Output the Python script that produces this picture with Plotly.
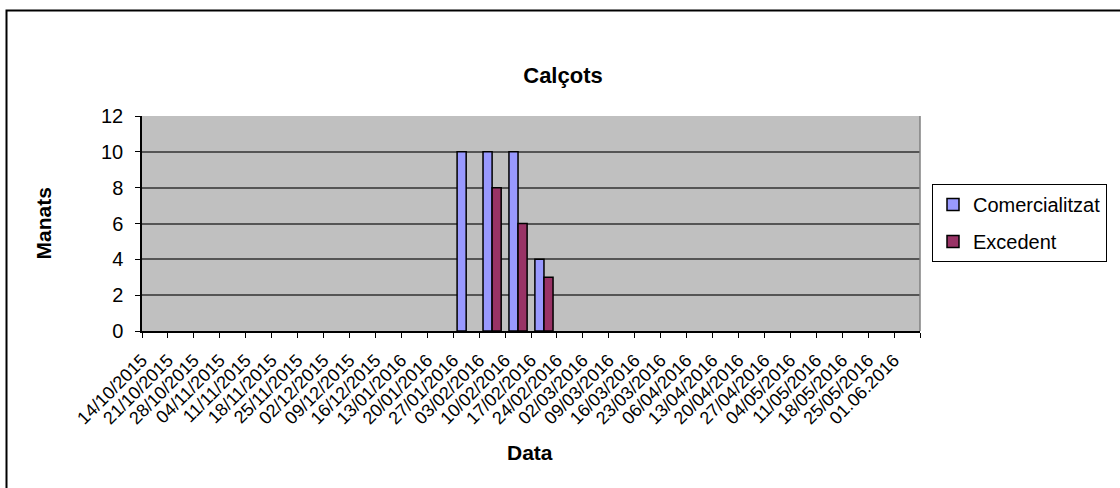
import plotly.graph_objects as go

dates = ["14/10/2015", "21/10/2015", "28/10/2015", "04/11/2015", "11/11/2015",
         "18/11/2015", "25/11/2015", "02/12/2015", "09/12/2015", "16/12/2015",
         "13/01/2016", "20/01/2016", "27/01/2016", "03/02/2016", "10/02/2016",
         "17/02/2016", "24/02/2016", "02/03/2016", "09/03/2016", "16/03/2016",
         "23/03/2016", "06/04/2016", "13/04/2016", "20/04/2016", "27/04/2016",
         "04/05/2016", "11/05/2016", "18/05/2016", "25/05/2016", "01.06.2016"]

comercialitzat = [None] * 12 + [10, 10, 10, 4] + [None] * 14
excedent = [None] * 13 + [8, 6, 3] + [None] * 14

FONT = "Liberation Sans, Arial, sans-serif"

fig = go.Figure()
fig.add_trace(go.Bar(x=dates, y=comercialitzat, name="Comercialitzat", legendgroup="a",
                     marker=dict(color="#9999FF", line=dict(color="black", width=1.5))))
fig.add_trace(go.Bar(x=dates, y=excedent, name="Excedent", legendgroup="b",
                     marker=dict(color="#993366", line=dict(color="black", width=1.5))))

L, R, T, B = 142, 200, 116, 157
W, H = 1120, 488
pw, ph = W - L - R, H - T - B

def px(x):
    return (x - L) / pw

def py(y):
    return (H - B - y) / ph

fig.update_layout(
    width=W, height=H,
    margin=dict(l=L, r=R, t=T, b=B, autoexpand=False),
    paper_bgcolor="white",
    plot_bgcolor="#C0C0C0",
    barmode="group",
    bargap=0.3,
    bargroupgap=0,
    font=dict(family=FONT, color="black"),
    title=dict(text="<b>Calçots</b>", font=dict(size=22, family=FONT, color="black"),
               xref="container", yref="container", x=563 / W, y=1 - 75 / H,
               xanchor="center", yanchor="middle"),
    legend=dict(x=px(932), y=py(184), xanchor="left", yanchor="top",
                bordercolor="black", borderwidth=1, bgcolor="white",
                font=dict(size=20, family=FONT), traceorder="grouped",
                tracegroupgap=8, itemwidth=30),
    showlegend=True,
)

fig.update_xaxes(
    type="category", tickangle=-45, tickfont=dict(size=18, family=FONT),
    tickmode="linear", dtick=1,
    showline=True, linecolor="black", linewidth=1.5,
    ticks="outside", tickson="boundaries", ticklen=5, tickcolor="black",
    ticklabelstandoff=10, ticklabelshift=-13,
    showgrid=False, fixedrange=True,
)
fig.update_yaxes(
    range=[0, 12], dtick=2, tickfont=dict(size=20, family=FONT),
    showline=True, linecolor="black", linewidth=1.5,
    ticks="outside", ticklen=5, tickcolor="black", ticklabelstandoff=8,
    showgrid=True, gridcolor="#555555", gridwidth=1.5, zeroline=False,
)

# axis titles
fig.add_annotation(text="<b>Manats</b>", xref="paper", yref="paper",
                   x=px(43), y=py(223.5), showarrow=False, textangle=-90,
                   font=dict(size=21, family=FONT, color="black"),
                   xanchor="center", yanchor="middle")
fig.add_annotation(text="<b>Data</b>", xref="paper", yref="paper",
                   x=px(530), y=py(453), showarrow=False,
                   font=dict(size=21, family=FONT, color="black"),
                   xanchor="center", yanchor="middle")

# plot area right border and chart border
fig.add_shape(type="line", xref="paper", yref="paper", x0=1, x1=1, y0=0, y1=1,
              line=dict(color="#808080", width=1.5))
fig.add_shape(type="rect", xref="paper", yref="paper",
              x0=px(6.5), x1=px(1125), y0=py(495), y1=py(10.5),
              line=dict(color="black", width=2), layer="above")

fig.write_html("out.html", config={"displayModeBar": False},
               post_script="document.body.style.margin='0';")
